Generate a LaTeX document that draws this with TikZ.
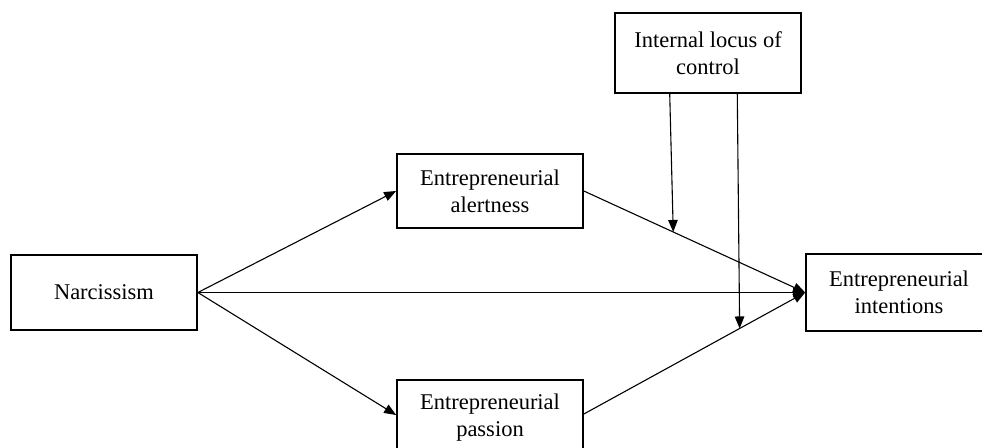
\documentclass[tikz,border=0pt]{standalone}
\usepackage{fontspec}
\setmainfont{Liberation Serif}
\usetikzlibrary{arrows.meta,calc}
\begin{document}
\begin{tikzpicture}[x=1pt,y=-1pt,
  box/.style={draw,line width=1.7pt,minimum width=186pt,inner sep=0pt,align=center,
    font=\fontsize{22.5}{27}\selectfont},
  conn/.style={line width=1.1pt,-{Triangle[length=12pt,width=9.5pt]}}]
\useasboundingbox (0,0) rectangle (982,447);
\node[box,minimum height=80pt] (ilc) at (708,53) {Internal locus of\\control};
\node[box,minimum height=75pt] (narc) at (104,292.5) {Narcissism};
\node[box,minimum height=74pt] (alert) at (490,191) {Entrepreneurial\\alertness};
\node[box,minimum height=76pt] (pass) at (490,418) {Entrepreneurial\\passion};
\node[box,minimum height=77pt] (intent) at (899,292.5) {Entrepreneurial\\intentions};
\coordinate (p1) at ($(pass.west)+(0,-3)$);
\coordinate (p2) at ($(pass.east)+(0,-4)$);
\draw[conn] (narc.east) -- (alert.west);
\draw[conn] (narc.east) -- (p1);
\draw[conn] (narc.east) -- (intent.west);
\draw[conn] (alert.east) -- (intent.west);
\draw[conn] (p2) -- (intent.west);
\coordinate (s1) at ($(ilc.south west)!0.296!(ilc.south east)$);
\coordinate (s2) at ($(ilc.south west)!0.656!(ilc.south east)$);
\coordinate (m1) at ($(alert.east)!0.404!(intent.west)$);
\coordinate (m2) at ($(p2)!0.704!(intent.west)$);
\draw[conn] (s1) -- (m1);
\draw[conn] (s2) -- (m2);
\end{tikzpicture}
\end{document}
